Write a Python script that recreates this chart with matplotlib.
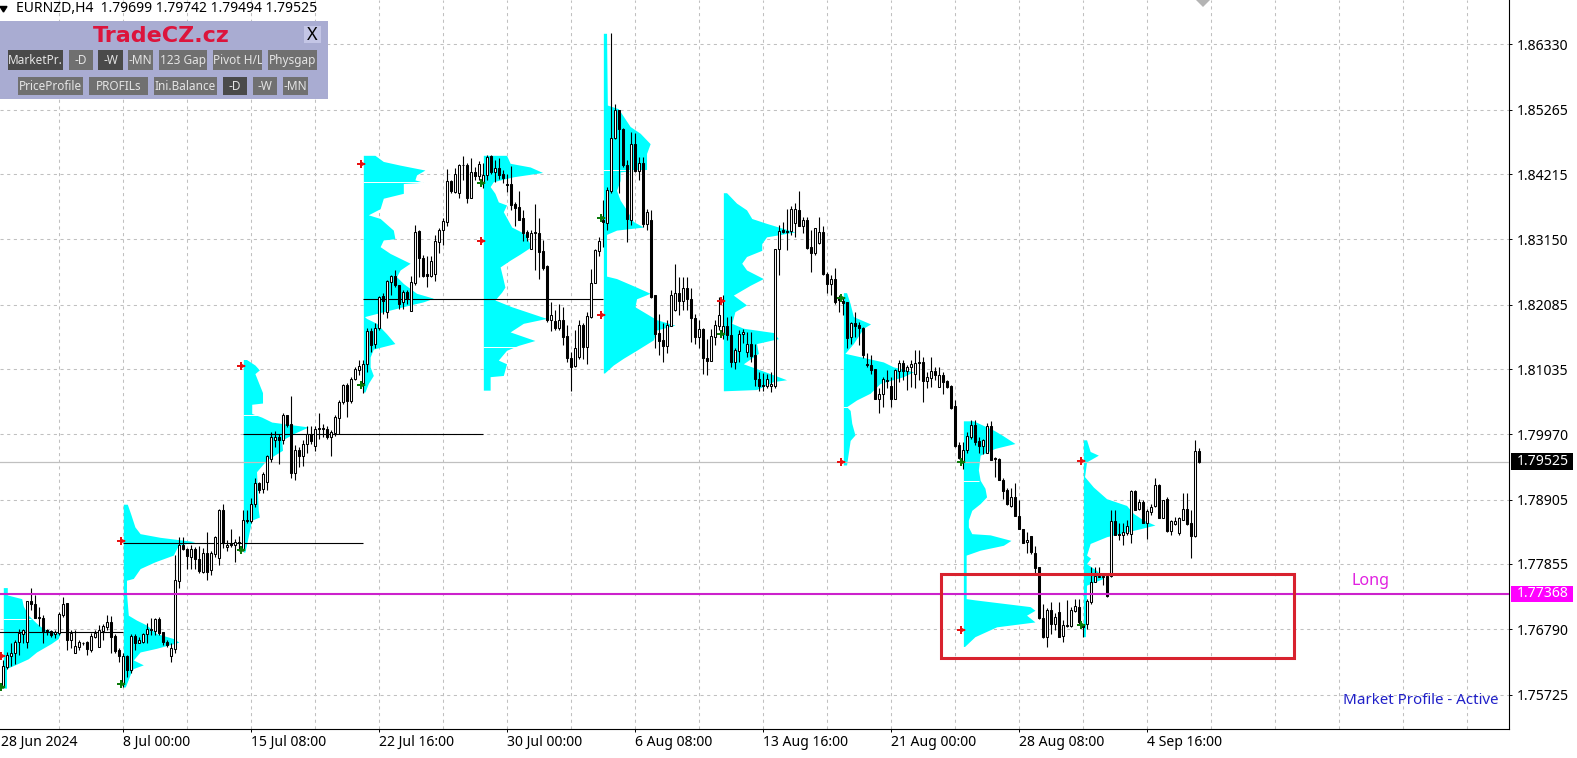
"""EURNZD H4 candles with weekly market profiles, MT4 style screenshot."""

import matplotlib
matplotlib.use("Agg")
import matplotlib.pyplot as plt
from matplotlib.patches import Rectangle
import numpy as np

plt.rcParams["font.family"] = ["Noto Sans", "DejaVu Sans"]

# ---------------------------------------------------------------------------
# Candles, prices in 1/10000
# ---------------------------------------------------------------------------
opens = [
    17585, 17618, 17635, 17640, 17659, 17672, 17658, 17725, 17721, 17699,
    17698, 17678, 17676, 17671, 17673, 17702, 17722, 17661, 17641, 17650,
    17657, 17659, 17645, 17667, 17650, 17677, 17683, 17691, 17668, 17645,
    17592, 17635, 17612, 17668, 17657, 17659, 17671, 17679, 17677, 17696,
    17674, 17659, 17636, 17647, 17758, 17816, 17810, 17797, 17810, 17794,
    17773, 17804, 17775, 17802, 17795, 17874, 17814, 17819, 17817, 17822,
    17808, 17858, 17856, 17883, 17917, 17907, 17920, 17957, 17988, 17992,
    17987, 18028, 18013, 17934, 17971, 17961, 17981, 17998, 17978, 18006,
    18008, 18005, 17993, 17999, 18024, 18050, 18077, 18052, 18088, 18102,
    18080, 18111, 18165, 18145, 18171, 18222, 18197, 18246, 18255, 18240,
    18212, 18229, 18198, 18244, 18329, 18284, 18258, 18255, 18259, 18311,
    18330, 18344, 18410, 18392, 18390, 18437, 18437, 18383, 18424, 18418,
    18408, 18420, 18451, 18425, 18431, 18421, 18405, 18405, 18372, 18367,
    18349, 18327, 18300, 18327, 18325, 18296, 18272, 18183, 18181, 18170,
    18184, 18157, 18122, 18108, 18123, 18175, 18140, 18189, 18244, 18296,
    18346, 18342, 18394, 18481, 18526, 18495, 18436, 18347, 18470, 18427,
    18440, 18340, 18346, 18224, 18162, 18150, 18141, 18174, 18199, 18227,
    18215, 18235, 18218, 18187, 18156, 18169, 18122, 18117, 18156, 18174,
    18160, 18173, 18159, 18115, 18133, 18160, 18132, 18145, 18126, 18088,
    18077, 18076, 18075, 18075, 18299, 18330, 18329, 18328, 18341, 18363,
    18337, 18346, 18302, 18293, 18309, 18327, 18258, 18242, 18250, 18219,
    18215, 18212, 18155, 18178, 18175, 18171, 18111, 18110, 18103, 18055,
    18062, 18086, 18075, 18055, 18101, 18113, 18101, 18106, 18096, 18115,
    18115, 18084, 18089, 18100, 18074, 18094, 18084, 18075, 18043, 17979,
    17952, 17971, 17993, 18012, 17986, 17978, 17967, 18011, 17958, 17957,
    17923, 17906, 17880, 17894, 17864, 17842, 17821, 17831, 17803, 17780,
    17697, 17666, 17711, 17687, 17708, 17668, 17684, 17684, 17709, 17716,
    17688, 17688, 17724, 17756, 17765, 17765, 17766, 17766, 17855, 17834,
    17832, 17836, 17834, 17904, 17875, 17887, 17853, 17871, 17880, 17914,
    17861, 17891, 17840, 17850, 17836, 17858, 17876, 17852, 17831, 17969.9,
]
highs = [
    17629, 17642, 17656, 17662, 17680, 17680, 17725, 17746, 17735, 17716,
    17702, 17680, 17678, 17678, 17708, 17731, 17722, 17678, 17678, 17662,
    17659, 17660, 17673, 17678, 17686, 17687, 17703, 17701, 17672, 17648,
    17640, 17637, 17672, 17671, 17667, 17673, 17689, 17698, 17698, 17699,
    17675, 17661, 17656, 17800, 17829, 17829, 17811, 17816, 17814, 17815,
    17811, 17838, 17806, 17831, 17875, 17884, 17825, 17842, 17827, 17831,
    17874, 17874, 17893, 17925, 17920, 17936, 17963, 18001, 18002, 17998,
    18031, 18028, 18059, 17979, 17976, 17988, 18010, 18010, 18010, 18031,
    18013, 18010, 18004, 18028, 18053, 18079, 18080, 18090, 18106, 18119,
    18119, 18170, 18170, 18178, 18222, 18227, 18248, 18257, 18265, 18240,
    18232, 18233, 18255, 18338, 18330, 18289, 18287, 18287, 18322, 18333,
    18349, 18429, 18412, 18431, 18438, 18451, 18439, 18447, 18433, 18442,
    18439, 18452, 18452, 18444, 18447, 18428, 18422, 18434, 18376, 18393,
    18363, 18330, 18330, 18372, 18349, 18314, 18273, 18213, 18199, 18209,
    18204, 18175, 18131, 18167, 18184, 18178, 18197, 18266, 18300, 18318,
    18379, 18401, 18651, 18535, 18526, 18496, 18444, 18490, 18488, 18450,
    18450, 18365, 18363, 18224, 18193, 18178, 18184, 18233, 18274, 18253,
    18253, 18253, 18235, 18194, 18183, 18170, 18153, 18169, 18184, 18221,
    18224, 18188, 18190, 18137, 18167, 18168, 18164, 18164, 18145, 18099,
    18097, 18096, 18099, 18300, 18339, 18344, 18365, 18369, 18375, 18394,
    18351, 18352, 18330, 18334, 18352, 18336, 18262, 18257, 18268, 18224,
    18221, 18213, 18180, 18197, 18180, 18172, 18129, 18126, 18104, 18072,
    18091, 18102, 18091, 18104, 18118, 18118, 18110, 18118, 18134, 18134,
    18123, 18099, 18123, 18107, 18107, 18099, 18086, 18077, 18053, 17985,
    17985, 18001, 18020, 18020, 17993, 17990, 18015, 18018, 17960, 17958,
    17925, 17910, 17909, 17917, 17890, 17843, 17838, 17831, 17815, 17780,
    17721, 17713, 17724, 17706, 17724, 17694, 17726, 17716, 17728, 17729,
    17688, 17729, 17781, 17781, 17781, 17770, 17767, 17873, 17873, 17852,
    17852, 17857, 17906, 17906, 17892, 17890, 17876, 17884, 17926, 17916,
    17890, 17894, 17857, 17862, 17862, 17901, 17901, 17873, 17988, 17974.2,
]
lows = [
    17583, 17615, 17619, 17623, 17637, 17656, 17648, 17710, 17697, 17684,
    17656, 17670, 17667, 17664, 17670, 17699, 17645, 17648, 17641, 17645,
    17653, 17637, 17642, 17664, 17650, 17662, 17678, 17640, 17640, 17626,
    17585, 17602, 17608, 17645, 17656, 17656, 17656, 17670, 17670, 17670,
    17653, 17650, 17626, 17640, 17747, 17809, 17777, 17778, 17778, 17770,
    17770, 17759, 17767, 17797, 17784, 17811, 17807, 17814, 17789, 17806,
    17806, 17852, 17852, 17879, 17901, 17902, 17906, 17952, 17976, 17949,
    17982, 18009, 17925, 17922, 17944, 17946, 17966, 17982, 17969, 17990,
    17993, 17990, 17961, 17995, 17998, 18047, 18026, 18048, 18086, 18093,
    18065, 18099, 18131, 18137, 18167, 18194, 18187, 18225, 18238, 18202,
    18202, 18210, 18198, 18240, 18254, 18254, 18238, 18254, 18247, 18293,
    18305, 18337, 18390, 18390, 18383, 18412, 18374, 18382, 18412, 18412,
    18398, 18412, 18422, 18409, 18414, 18407, 18392, 18363, 18336, 18346,
    18312, 18312, 18300, 18265, 18250, 18265, 18180, 18166, 18167, 18167,
    18142, 18115, 18067, 18107, 18120, 18120, 18112, 18186, 18243, 18287,
    18303, 18330, 18390, 18479, 18390, 18433, 18311, 18338, 18425, 18411,
    18335, 18330, 18220, 18137, 18126, 18115, 18130, 18174, 18198, 18191,
    18199, 18200, 18148, 18145, 18138, 18096, 18093, 18116, 18142, 18167,
    18153, 18150, 18107, 18104, 18115, 18146, 18123, 18115, 18075, 18068,
    18068, 18072, 18066, 18072, 18257, 18325, 18297, 18322, 18318, 18336,
    18325, 18300, 18262, 18289, 18308, 18257, 18227, 18224, 18210, 18197,
    18191, 18137, 18145, 18156, 18142, 18122, 18107, 18096, 18054, 18031,
    18042, 18072, 18042, 18054, 18083, 18085, 18069, 18074, 18072, 18085,
    18050, 18072, 18074, 18085, 18074, 18063, 18072, 18039, 17976, 17957,
    17940, 17966, 17990, 17980, 17967, 17965, 17966, 17955, 17928, 17922,
    17892, 17882, 17879, 17863, 17842, 17819, 17803, 17801, 17770, 17695,
    17664, 17650, 17671, 17678, 17666, 17659, 17683, 17683, 17707, 17688,
    17667, 17680, 17721, 17756, 17765, 17751, 17732, 17765, 17833, 17824,
    17817, 17833, 17820, 17873, 17873, 17852, 17826, 17865, 17879, 17860,
    17860, 17838, 17833, 17849, 17833, 17857, 17849, 17795, 17830, 17949.4,
]
closes = [
    17619, 17637, 17640, 17659, 17673, 17678, 17725, 17720, 17698, 17697,
    17677, 17677, 17670, 17675, 17704, 17721, 17661, 17673, 17651, 17658,
    17656, 17647, 17668, 17673, 17678, 17684, 17691, 17667, 17644, 17636,
    17636, 17612, 17668, 17657, 17661, 17671, 17679, 17678, 17696, 17673,
    17658, 17653, 17649, 17759, 17816, 17810, 17798, 17810, 17794, 17774,
    17804, 17773, 17803, 17830, 17874, 17819, 17817, 17817, 17821, 17819,
    17857, 17856, 17883, 17917, 17906, 17933, 17961, 17992, 17993, 17988,
    18028, 18012, 17934, 17971, 17961, 17981, 17998, 17986, 18006, 18008,
    18005, 17993, 18001, 18025, 18050, 18077, 18052, 18088, 18103, 18109,
    18111, 18165, 18143, 18171, 18221, 18215, 18247, 18255, 18240, 18210,
    18229, 18220, 18245, 18327, 18284, 18255, 18255, 18279, 18312, 18330,
    18345, 18410, 18393, 18421, 18436, 18436, 18383, 18424, 18418, 18438,
    18420, 18450, 18425, 18431, 18420, 18415, 18403, 18371, 18366, 18347,
    18326, 18318, 18325, 18325, 18295, 18269, 18183, 18192, 18170, 18184,
    18156, 18122, 18107, 18137, 18175, 18140, 18190, 18243, 18297, 18312,
    18343, 18395, 18481, 18526, 18495, 18436, 18348, 18470, 18427, 18440,
    18340, 18359, 18221, 18160, 18149, 18141, 18175, 18224, 18227, 18215,
    18235, 18218, 18187, 18156, 18169, 18122, 18117, 18157, 18175, 18191,
    18173, 18159, 18115, 18134, 18160, 18164, 18145, 18125, 18088, 18075,
    18075, 18088, 18079, 18299, 18328, 18327, 18327, 18364, 18364, 18337,
    18346, 18301, 18293, 18333, 18327, 18258, 18242, 18250, 18213, 18216,
    18211, 18154, 18178, 18173, 18170, 18126, 18110, 18102, 18055, 18062,
    18087, 18084, 18055, 18102, 18114, 18101, 18106, 18111, 18114, 18114,
    18084, 18090, 18100, 18094, 18094, 18083, 18074, 18040, 17978, 17959,
    17972, 17994, 18012, 17985, 17978, 17988, 18011, 17955, 17956, 17922,
    17905, 17884, 17894, 17864, 17842, 17820, 17824, 17805, 17779, 17697,
    17666, 17711, 17687, 17699, 17667, 17686, 17686, 17711, 17717, 17691,
    17683, 17725, 17756, 17766, 17766, 17766, 17733, 17855, 17833, 17832,
    17837, 17847, 17904, 17874, 17886, 17853, 17872, 17879, 17914, 17861,
    17890, 17840, 17855, 17855, 17861, 17876, 17851, 17831, 17970, 17952.5,
]

# ---------------------------------------------------------------------------
# Weekly market profiles: first bar, price levels (1/10000), width in bars
# ---------------------------------------------------------------------------
profile_starts = [0, 30, 60, 90, 120, 150, 180, 210, 240, 270]

profile_a_prices = [17747, 17735, 17729, 17717, 17702, 17689, 17680, 17672, 17664, 17656,
                    17642, 17631, 17621, 17615, 17583]
profile_a_widths = [1, 1, 4.6, 5, 6.25, 8.3, 10, 14.2, 13.75, 12, 8.3, 6.25, 2.9, 0.8, 0.8]

profile_b_prices = [17883, 17868, 17846, 17835, 17829, 17822, 17816, 17800, 17789, 17778,
                    17762, 17759, 17738, 17702, 17694, 17686, 17672, 17664, 17658, 17648,
                    17642, 17629, 17621, 17615, 17610, 17585]
profile_b_widths = [1, 1.8, 2.9, 4.2, 9.2, 17.9, 13.75, 12.5, 7.9, 4.2, 2.5, 0.8, 0.8, 1.25,
                    3.3, 5.8, 8.3, 12.5, 13.9, 8.3, 4.2, 2.5, 5, 2.5, 2, 0.5]

profile_c_prices = [18119, 18110, 18102, 18096, 18065, 18048, 18046, 18031, 18025, 18017,
                    18009, 17998, 17987, 17971, 17955, 17936, 17873, 17862, 17857, 17805]
profile_c_widths = [0.8, 2.9, 4, 2.9, 4.8, 4.8, 2.1, 2.1, 4.6, 7.1, 16.25, 12.5, 9.6, 9.8,
                    5.8, 3.3, 3.75, 4, 2.1, 0.4]

profile_d_prices = [18452, 18442, 18436, 18428, 18420, 18412, 18408, 18406, 18390, 18382,
                    18365, 18355, 18349, 18330, 18316, 18314, 18303, 18292, 18276, 18265,
                    18254, 18243, 18227, 18219, 18213, 18208, 18189, 18186, 18178, 18161,
                    18145, 18136, 18123, 18107, 18093, 18080, 18066]
profile_d_widths = [2.9, 5, 9.2, 15.4, 13.3, 12.9, 15, 10, 10, 5, 4.2, 1.25, 4.2, 7.5, 7.9,
                    5, 4.2, 6.7, 11.7, 9.2, 8.3, 10, 13.3, 17.5, 15, 11.7, 0.3, 0.8, 3.3,
                    5.8, 7.9, 2.5, 1.7, 1.7, 2.5, 1.25, 0.4]

profile_e_prices = [18452, 18439, 18433, 18424, 18417, 18409, 18401, 18390, 18376, 18371,
                    18360, 18335, 18324, 18303, 18291, 18281, 18270, 18254, 18237, 18229,
                    18216, 18205, 18186, 18178, 18164, 18150, 18142, 18134, 18118, 18112,
                    18093, 18091, 18069]
profile_e_widths = [5.8, 6.7, 11.7, 14.8, 7.5, 2.5, 1.7, 2.9, 3.75, 5.8, 5, 7.1, 10.4, 12,
                    9.2, 6.7, 4.2, 4.8, 5.4, 4.6, 2.9, 7.1, 15.8, 10, 6.7, 12.9, 8.75, 5.8,
                    3.75, 5.8, 5, 1.7, 1.7]

profile_f_prices = [18651, 18534, 18528, 18499, 18488, 18471, 18455, 18429, 18425, 18411,
                    18395, 18379, 18363, 18344, 18335, 18330, 18323, 18255, 18251, 18237,
                    18227, 18218, 18205, 18184, 18175, 18167, 18151, 18134, 18121, 18110,
                    18097]
profile_f_widths = [0.8, 1, 3.75, 6.7, 9.2, 11.7, 10.8, 10.8, 4.2, 4.2, 3.3, 4.2, 5.8, 7.5,
                    10, 3.3, 0.8, 0.8, 3.3, 8.3, 11.7, 8.3, 7.9, 13.3, 17.9, 13.3, 12.5,
                    8.3, 5, 2.5, 0.3]

profile_g_prices = [18391, 18374, 18363, 18349, 18341, 18327, 18319, 18308, 18297, 18287,
                    18276, 18265, 18251, 18240, 18224, 18208, 18197, 18178, 18170, 18163,
                    18153, 18145, 18129, 18112, 18102, 18086, 18083, 18070, 18068]
profile_g_widths = [0.8, 3.3, 5.8, 7.1, 10.8, 17.9, 10.8, 9.6, 9.6, 5.8, 4.6, 5.8, 10, 6.7,
                    2.5, 5.8, 2.9, 2.1, 5, 12.5, 13.75, 8.3, 8.75, 5, 9.2, 15.8, 12.5, 8.3,
                    0.3]

profile_h_prices = [18228, 18210, 18189, 18177, 18170, 18145, 18129, 18126, 18115, 18107,
                    18099, 18091, 18080, 18064, 18053, 18042, 18036, 18015, 17996, 17987,
                    17947]
profile_h_widths = [0.8, 1.7, 2.5, 6.8, 5, 2.5, 0.4, 2.5, 10, 12.5, 17.5, 15, 9.2, 6.7, 3.3,
                    0.8, 1.7, 2.1, 2.9, 1.7, 0.8]

profile_i_prices = [18019, 18004, 17996, 17982, 17974, 17963, 17939, 17922, 17909, 17895,
                    17884, 17873, 17857, 17846, 17835, 17833, 17824, 17816, 17808, 17800,
                    17729, 17727, 17716, 17710, 17702, 17691, 17683, 17667, 17651]
profile_i_widths = [2.5, 7.5, 9.6, 12.9, 7.9, 4.2, 3.75, 4.2, 5.4, 5.8, 4.2, 2.1, 1.25, 1.25,
                    2.1, 6.7, 11.9, 10, 4.2, 0.7, 0.7, 2.9, 16.7, 17.9, 15.8, 17.9, 8.3, 2.9,
                    0.3]

profile_j_prices = [17988, 17969, 17963, 17952, 17928, 17911, 17892, 17881, 17868, 17857,
                    17849, 17843, 17830, 17819, 17800, 17795, 17786, 17775, 17762, 17751,
                    17667]
profile_j_widths = [0.8, 1.7, 3.75, 0.8, 0.3, 2.5, 5.8, 10.8, 12.5, 15, 17.9, 14.2, 5.8, 1.7,
                    0.8, 1.8, 0.8, 3.3, 5, 0.8, 0.5]

# thin empty price levels inside the profiles
gap_prices = [1.7696, 1.8028, 1.8409, 1.8139, 1.8428, 1.8042, 1.7921]
gap_starts = [0, 60, 90, 120, 150, 210, 240]
gap_ends = [7, 65, 105, 129, 160, 212, 244]

# open point-of-control lines: price, first bar, last bar
poc_prices = [1.7674, 1.7820, 1.7998, 1.8217]
poc_starts = [-1, 30, 60, 90]
poc_ends = [30, 90, 120, 150]

# high/low arrows, one pair per profile
red_arrow_prices = [1.7636, 1.78225, 1.81089, 1.84373, 1.83122, 1.81915, 1.82136, 1.79513, 1.76779, 1.79535]
green_arrow_prices = [1.75854, 1.75898, 1.78083, 1.80769, 1.84068, 1.83492, 1.81606, 1.82188, 1.79523, 1.76855]

price_ticks = [1.86330, 1.85265, 1.84215, 1.83150, 1.82085, 1.81035, 1.79970,
               1.78905, 1.77855, 1.76790, 1.75725]
time_tick_bars = [30, 62, 94, 126, 158, 190, 222, 254, 286]
time_tick_labels = ["8 Jul 00:00", "15 Jul 08:00", "22 Jul 16:00", "30 Jul 00:00", "6 Aug 08:00",
                    "13 Aug 16:00", "21 Aug 00:00", "28 Aug 08:00", "4 Sep 16:00"]

bid_price = 1.79525
long_price = 1.77368

W, H = 1577, 758
AX_R, AX_B = 1509, 729
TICK_FONT = 10.1

fig = plt.figure(figsize=(W / 100, H / 100), dpi=100)
ax = fig.add_axes([0, 1 - AX_B / H, AX_R / W, AX_B / H])
ax.set_xlim(-0.825, 376.4)
ax.set_ylim(1.75164, 1.87053)
ax.set_axisbelow(True)

for side in ("top", "left"):
    ax.spines[side].set_visible(False)
for side in ("right", "bottom"):
    ax.spines[side].set_linewidth(0.8)

# axes, ticks, grid
ax.yaxis.tick_right()
ax.set_yticks(price_ticks)
ax.set_yticklabels([f"{p:.5f}" for p in price_ticks])
ax.set_xticks(time_tick_bars)
ax.set_xticklabels(time_tick_labels, ha="left")
ax.set_xticks([b - 16 for b in time_tick_bars] + [302, 318, 334, 350, 366], minor=True)
ax.tick_params(axis="both", which="major", length=2.5, width=0.7, labelsize=TICK_FONT)
ax.tick_params(axis="y", pad=3.2)
ax.tick_params(axis="x", pad=1.5)
ax.tick_params(axis="x", which="minor", length=0)
ax.grid(True, which="both", color="#c0c0c0", linewidth=0.75, linestyle=(0, (3, 3.4)))
ax.text(-0.6, -0.0085, "28 Jun 2024", transform=ax.get_xaxis_transform(), fontsize=TICK_FONT,
        va="top", ha="left", clip_on=False)

# market profiles
profiles = [
    (profile_a_prices, profile_a_widths), (profile_b_prices, profile_b_widths),
    (profile_c_prices, profile_c_widths), (profile_d_prices, profile_d_widths),
    (profile_e_prices, profile_e_widths), (profile_f_prices, profile_f_widths),
    (profile_g_prices, profile_g_widths), (profile_h_prices, profile_h_widths),
    (profile_i_prices, profile_i_widths), (profile_j_prices, profile_j_widths),
]
for start, (levels, widths) in zip(profile_starts, profiles):
    levels = np.array(levels) / 1e4
    ax.fill_betweenx(levels, start, start + np.array(widths), color="#00ffff",
                     linewidth=0, zorder=2)
ax.hlines(gap_prices, gap_starts, gap_ends, color="white", linewidth=0.7, zorder=2.5)

ax.hlines(poc_prices, poc_starts, poc_ends, color="black", linewidth=0.8, zorder=3)
ax.axhline(bid_price, color="#c0c0c0", linewidth=0.9, zorder=3)

# candles
bars = np.arange(len(closes))
o = np.array(opens) / 1e4
h = np.array(highs) / 1e4
l = np.array(lows) / 1e4
c = np.array(closes) / 1e4
up = c >= o
ax.vlines(bars, l, h, color="black", linewidth=0.8, zorder=4)
ax.bar(bars[up], (c - o)[up], bottom=o[up], width=0.55, facecolor="white",
       edgecolor="black", linewidth=0.75, zorder=5)
ax.bar(bars[~up], (c - o)[~up], bottom=o[~up], width=0.55, facecolor="black",
       edgecolor="black", linewidth=0.75, zorder=5)

# long level and zone
ax.axhline(long_price, color="#cc22cc", linewidth=1.5, zorder=6)
ax.add_patch(Rectangle((234.4, 1.76319), 88.2, 0.01374, fill=False, edgecolor="#d8222e",
                       linewidth=2.2, zorder=7))

# arrows on each profile
arrow_bars = np.array(profile_starts) - 0.65
for prices, col in ((red_arrow_prices, "#e81010"), (green_arrow_prices, "#0a7a0a")):
    ax.plot(arrow_bars, prices, linestyle="none", marker="P", markersize=5.5, color=col,
            markeredgewidth=0, zorder=8, clip_on=False)
    ax.plot(arrow_bars + 0.45, prices, linestyle="none", marker=">", markersize=5, color=col,
            markeredgewidth=0, zorder=8)

# chart shift marker at the top edge
ax.plot([300], [1.87053], marker="D", markersize=7, color="#b4b4b4", markeredgewidth=0,
        zorder=8, clip_on=False)

ax.text(337, 1.7758, "Long", color="#e020e0", fontsize=11.6, va="center", ha="left", zorder=9)
ax.text(1498.3 / AX_R, 1 - 701 / AX_B, "Market Profile - Active", color="#2020c8", fontsize=10.9,
        va="center", ha="right", transform=ax.transAxes, zorder=9)

# price tags on the right
for price, bg in ((bid_price, "black"), (long_price, "#ff00ff")):
    ax.add_patch(Rectangle((1 + 2 / AX_R, price - 0.00136), 62 / AX_R, 0.00272, facecolor=bg,
                           edgecolor="none", transform=ax.get_yaxis_transform(), clip_on=False))
    ax.annotate(f"{price:.5f}", xy=(1, price), xycoords=ax.get_yaxis_transform(), xytext=(5.8, 0),
                textcoords="offset points", color="white", fontsize=TICK_FONT, va="center",
                annotation_clip=False)


# ---------------------------------------------------------------------------
# Terminal overlay, placed in screen pixels
# ---------------------------------------------------------------------------
def fbox(x0, y0, x1, y1, color, z=1):
    r = Rectangle((x0 / W, 1 - y1 / H), (x1 - x0) / W, (y1 - y0) / H, facecolor=color,
                  edgecolor="none", transform=fig.transFigure, zorder=z)
    fig.add_artist(r)
    return r


def ftext(x, y, s, **kw):
    return fig.text(x / W, 1 - y / H, s, va="center", **kw)


fig.add_artist(plt.Polygon([(0 / W, 1 - 6.5 / H), (7 / W, 1 - 6.5 / H), (3.5 / W, 1 - 12 / H)], closed=True,
                           color="black", transform=fig.transFigure))
ftext(16.5, 9, "EURNZD,H4  1.79699 1.79742 1.79494 1.79525", fontsize=10.05, color="black", zorder=5)

fbox(0, 20.5, 328, 99, "#a9acd2", z=2)
ftext(161.5, 36.5, "TradeCZ.cz", fontsize=16, fontweight="bold", color="#dc143c", ha="center",
      family="DejaVu Sans", zorder=5)
fbox(304, 26, 321, 43, "#c4c6e6", z=3)
ftext(312.5, 34.5, "X", fontsize=13, color="black", ha="center", zorder=5)

button_labels = ["MarketPr.", "-D", "-W", "-MN", "123 Gap", "Pivot H/L", "Physgap",
                 "PriceProfile", "PROFILs", "Ini.Balance", "-D", "-W", "-MN"]
button_left = [8, 69, 98, 128, 159, 213, 268, 18, 89, 154, 223, 253, 283]
button_right = [63, 93, 123, 153, 207, 262, 317, 83, 148, 217, 247, 277, 308]
button_dark = [True, False, True, False, False, False, False, False, False, False, True, False, False]
for i, label in enumerate(button_labels):
    top, bot = (50, 70) if i < 7 else (76.5, 95)
    box = fbox(button_left[i], top, button_right[i], bot, "#4a4a4a" if button_dark[i] else "#707070", z=3)
    t = ftext((button_left[i] + button_right[i]) / 2, (top + bot + 1) / 2, label, fontsize=8.5,
              color="#e4e4e4", ha="center", zorder=5)
    t.set_clip_path(box)

fig.savefig("out.png", dpi=100)
